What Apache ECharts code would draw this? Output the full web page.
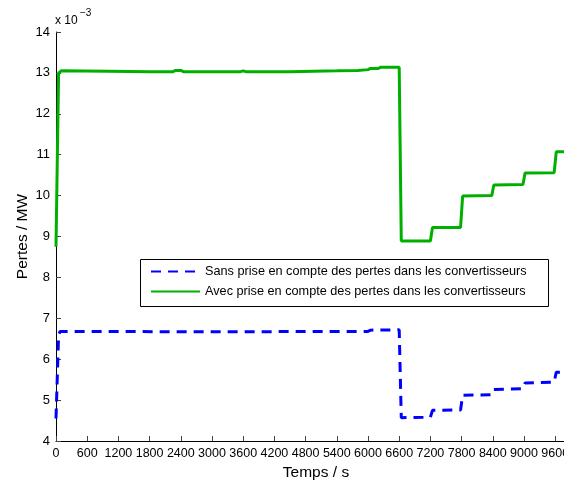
<!DOCTYPE html>
<html><head><meta charset="utf-8">
<script src="https://cdn.jsdelivr.net/npm/echarts@6/dist/echarts.min.js"></script>
<style>html,body{margin:0;padding:0;background:#fff}#c{width:564px;height:480px}</style>
</head><body><div id="c"></div>
<script>
// Values in units of 1e-3 MW
var tGreen = [0, 50, 100, 1000, 1800, 2250, 2300, 2400, 2450, 3550, 3600, 3650, 4500, 5400, 5800, 6000, 6050, 6200, 6250, 6600, 6640, 7200, 7240, 7780, 7820, 8380, 8420, 8980, 9020, 9580, 9620, 10000];
var vGreen = [8.75, 13.0, 13.05, 13.04, 13.03, 13.03, 13.06, 13.06, 13.03, 13.03, 13.05, 13.03, 13.03, 13.05, 13.06, 13.08, 13.11, 13.11, 13.14, 13.14, 8.89, 8.89, 9.22, 9.22, 9.99, 10.0, 10.26, 10.27, 10.55, 10.56, 11.07, 11.08];
var tBlue = [0, 50, 80, 3000, 6000, 6050, 6600, 6640, 7200, 7240, 7780, 7820, 8380, 8420, 8980, 9020, 9580, 9620, 10000];
var vBlue = [4.55, 6.6, 6.68, 6.67, 6.68, 6.71, 6.72, 4.57, 4.58, 4.75, 4.76, 5.12, 5.13, 5.26, 5.28, 5.42, 5.44, 5.68, 5.70];
var seriesNames = ['Sans prise en compte des pertes dans les convertisseurs', 'Avec prise en compte des pertes dans les convertisseurs'];
var xTitle = 'Temps / s';
var yTitle = 'Pertes / MW';

function pairs(t, v) { return t.map(function (x, i) { return [x, v[i]]; }); }
var FONT = '"Liberation Sans", Arial, Helvetica, sans-serif';
var chart = echarts.init(document.getElementById('c'), null, { renderer: 'canvas' });
chart.setOption({
  animation: false,
  backgroundColor: '#ffffff',
  textStyle: { fontFamily: FONT },
  grid: { left: 56, top: 32, width: 520, height: 409, containLabel: false, outerBoundsMode: 'none' },
  xAxis: {
    type: 'value', min: 0, max: 10000, interval: 600,
    name: xTitle, nameLocation: 'middle', nameGap: 23,
    nameTextStyle: { fontSize: 15.5, color: '#000', fontFamily: FONT },
    axisLine: { show: true, onZero: false, lineStyle: { color: '#000', width: 1 } },
    axisTick: { show: true, inside: true, length: 5, lineStyle: { color: '#444' } },
    axisLabel: { fontSize: 12.5, color: '#000', margin: 6, fontFamily: FONT,
      formatter: function (v) { return String(v); } },
    splitLine: { show: false }
  },
  yAxis: {
    type: 'value', min: 4, max: 14, interval: 1,
    name: yTitle, nameLocation: 'middle', nameGap: 25, nameRotate: 90, nameMoveOverlap: false,
    nameTextStyle: { fontSize: 15.5, color: '#000', fontFamily: FONT },
    axisLine: { show: true, onZero: false, lineStyle: { color: '#000', width: 1 } },
    axisTick: { show: true, inside: true, length: 5, lineStyle: { color: '#444' } },
    axisLabel: { fontSize: 13, color: '#000', margin: 6, fontFamily: FONT },
    splitLine: { show: false }
  },
  legend: {
    left: 140, top: 259, orient: 'vertical',
    padding: [6, 10, 6, 10], itemGap: 7, itemWidth: 49, itemHeight: 14,
    borderWidth: 0,
    itemStyle: { opacity: 0 },
    textStyle: { fontSize: 12.7, color: '#000', fontFamily: FONT },
    data: seriesNames
  },
  graphic: [{
    type: 'rect', z: 3, shape: { x: 140.5, y: 259.5, width: 408, height: 47 },
    style: { fill: '#fff', stroke: '#000', lineWidth: 1 }
  }, {
    type: 'text', left: 55, top: 15,
    style: { text: 'x 10', fill: '#000', font: '12px ' + FONT }
  }, {
    type: 'text', left: 80, top: 8,
    style: { text: '\u22123', fill: '#000', font: '10px ' + FONT }
  }],
  series: [{
    name: seriesNames[0], type: 'line', showSymbol: false, symbol: 'none',
    data: pairs(tBlue, vBlue),
    lineStyle: { color: '#0000ff', width: 3, type: [10, 7] },
    itemStyle: { color: '#0000ff' }
  }, {
    name: seriesNames[1], type: 'line', showSymbol: false, symbol: 'none',
    data: pairs(tGreen, vGreen),
    lineStyle: { color: '#00b000', width: 3 },
    itemStyle: { color: '#00b000' }
  }]
});
</script></body></html>
